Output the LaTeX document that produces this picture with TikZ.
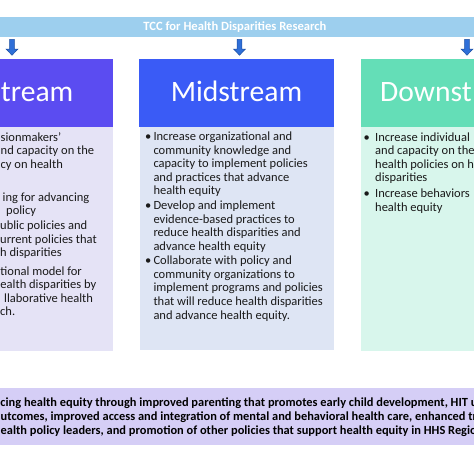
\documentclass[tikz,border=0pt]{standalone}
\usepackage{fontspec}
\setmainfont{Carlito}
\definecolor{bannerblue}{HTML}{9DCFEE}
\definecolor{uphead}{HTML}{5B4CF1}
\definecolor{midhead}{HTML}{3A5BF6}
\definecolor{downhead}{HTML}{64DEB7}
\definecolor{upbody}{HTML}{E5E3F6}
\definecolor{midbody}{HTML}{DEE5F4}
\definecolor{downbody}{HTML}{D8F6EC}
\definecolor{bottomfill}{HTML}{D5CEF6}
\definecolor{arrowblue}{HTML}{2F6FD8}
\definecolor{arrowedge}{HTML}{1C4FA2}
\definecolor{bodyink}{HTML}{1A1A1A}
\tikzset{
  panel/.style={inner sep=0, outer sep=0, draw=none, anchor=north west},
  headtext/.style={font=\fontsize{29.6}{30}\selectfont, text=white, inner sep=0, anchor=base west},
  bodytext/.style={font=\fontsize{12.5}{13.6}\selectfont, align=left, inner sep=0, anchor=base west, text=bodyink},
  bulletmark/.style={font=\fontsize{12.5}{13.6}\selectfont, inner sep=0, anchor=base, text=bodyink},
  bottomtext/.style={font=\bfseries\fontsize{12.4}{14}\selectfont, inner sep=0, anchor=base west, text=black},
  downarr/.pic={\path[fill=arrowblue, draw=arrowedge, line width=0.5pt]
     (-2.4,0) -- (2.4,0) -- (2.4,9.6) -- (6,9.6) -- (0,15.8) -- (-6,9.6) -- (-2.4,9.6) -- cycle;}
}
\begin{document}
\begin{tikzpicture}[x=1pt,y=-1pt]
\useasboundingbox (0,0) rectangle (474,474);
\fill[white] (0,0) rectangle (474,474);
\clip (0,0) rectangle (474,474);

% banner
\node (banner) [panel, fill=bannerblue, minimum width=500pt, minimum height=20.3pt] at (-10,17) {};
\node (bannertext) [font=\bfseries\fontsize{12.6}{14}\selectfont, text=white, inner sep=0] at (235,27.4) {TCC for Health Disparities Research};

% arrows
\pic at (12,39.4) {downarr};
\pic at (239.5,39.4) {downarr};
\pic at (467,39.4) {downarr};

% headers
\node (uph) [panel, fill=uphead, minimum width=173pt, minimum height=68.6pt] at (-60,58.7) {};
\node (midh) [panel, fill=midhead, minimum width=195pt, minimum height=68.6pt] at (139.3,58.7) {};
\node (downh) [panel, fill=downhead, minimum width=180pt, minimum height=68.6pt] at (360.7,58.7) {};

% bodies
\node (upb) [panel, fill=upbody, minimum width=173pt, minimum height=223.7pt] at (-60,127.3) {};
\node (midb) [panel, fill=midbody, minimum width=194pt, minimum height=222.2pt] at (140,127.3) {};
\node (downb) [panel, fill=downbody, minimum width=180pt, minimum height=223.7pt] at (360.7,127.3) {};

% header titles
\node (uptitle) [headtext] at (0.7,101) {tream};
\node (midtitle) [headtext, anchor=base] at (236.5,101) {Midstream};
\node (downtitle) [headtext] at (380,101) {Downst};

% left body fragments (anchor = baseline of last line)
\node (l1) [bodytext] at (0.5,168.2) {sionmakers'\\nd capacity on the\\cy on health};
\node (l2a) [bodytext] at (2.5,201.3) {ing for advancing};
\node (l2b) [bodytext] at (6,214.9) {policy};
\node (l3) [bodytext] at (0,256.7) {ublic policies and\\urrent policies that\\h disparities};
\node (l4a) [bodytext] at (0.3,288.6) {tional model for\\ealth disparities by};
\node (l4b) [bodytext] at (4,302.2) {llaborative health};
\node (l4c) [bodytext] at (0,315.8) {ch.};

% mid body
\node (mb1) [bulletmark] at (148.3,140.5) {•};
\node (m1) [bodytext] at (153.3,194.9) {Increase organizational and\\community knowledge and\\capacity to implement policies\\and practices that advance\\health equity};
\node (mb2) [bulletmark] at (148.3,209.7) {•};
\node (m2) [bodytext] at (153.3,250.5) {Develop and implement\\evidence-based practices to\\reduce health disparities and\\advance health equity};
\node (mb3) [bulletmark] at (148.3,264.7) {•};
\node (m3) [bodytext] at (153.3,319.1) {Collaborate with policy and\\community organizations to\\implement programs and policies\\that will reduce health disparities\\and advance health equity.};

% right body
\node (rb1) [bulletmark] at (366.7,141) {•};
\node (r1) [bodytext] at (375,181.8) {Increase individual\\and capacity on the\\health policies on h\\disparities};
\node (rb2) [bulletmark] at (366.7,197.5) {•};
\node (r2) [bodytext] at (375,211.1) {Increase behaviors\\health equity};

% bottom box
\node (bottom) [panel, fill=bottomfill, minimum width=500pt, minimum height=57pt] at (-10,388) {};
\node (bt1) [bottomtext] at (0.3,406) {cing health equity through improved parenting that promotes early child development, HIT ut};
\node (bt2) [bottomtext] at (0.5,420.2) {utcomes, improved access and integration of mental and behavioral health care, enhanced tra};
\node (bt3) [bottomtext] at (0.5,434.4) {ealth policy leaders, and promotion of other policies that support health equity in HHS Region};
\end{tikzpicture}
\end{document}
